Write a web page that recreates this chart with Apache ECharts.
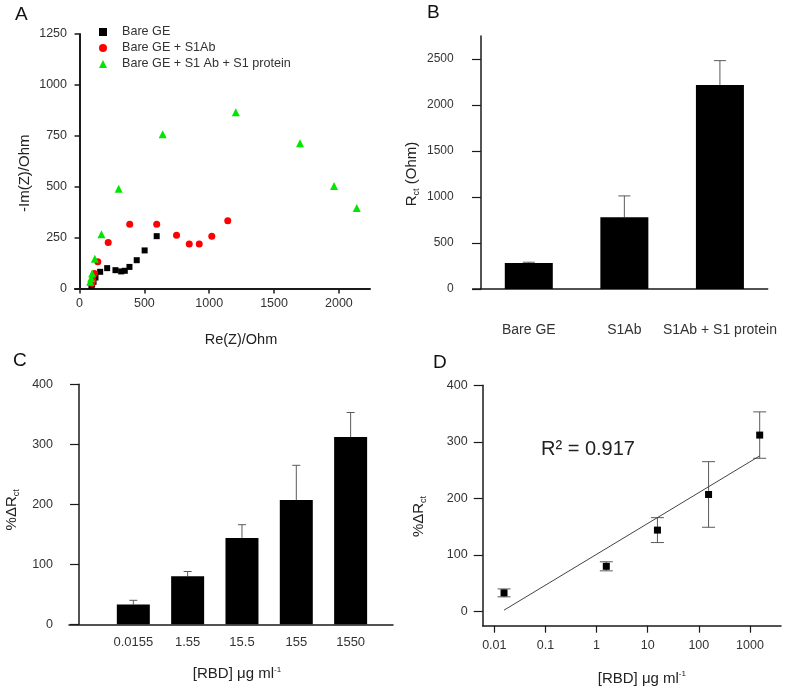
<!DOCTYPE html>
<html><head><meta charset="utf-8">
<script src="https://cdn.jsdelivr.net/npm/echarts@6/dist/echarts.min.js"></script>
<style>html,body{margin:0;padding:0;background:#fff}#c{width:789px;height:688px}</style>
</head><body><div id="c"></div>
<script>
// ---- Panel A: Nyquist data [Re(Z), -Im(Z)] ----
const bareGE = [[92,12],[97,20],[108,33],[123,54],[159,82],[213,100],[277,90],[321,84],[349,87],[385,106],[441,139],[502,187],[595,257]];
const bareGES1Ab = [[95,25],[102,41],[115,74],[141,131],[221,226],[387,316],[595,316],[748,262],[846,218],[923,218],[1020,257],[1143,333]];
const bareGES1AbS1 = [[82,33],[90,50],[97,74],[118,146],[169,267],[302,490],[641,758],[1205,866],[1700,713],[1963,503],[2138,395]];
const aXTicks = [0, 500, 1000, 1500, 2000];

// ---- Panel B: Rct ----
const rctCategories = ['Bare GE', 'S1Ab', 'S1Ab + S1 protein'];
const rctValues = [283, 780, 2217];
const rctErrors = [8, 232, 265];
const bYTicks = [0, 500, 1000, 1500, 2000, 2500];

// ---- Panels C & D: %ΔRct vs [RBD] ----
const rbdLabels = ['0.0155', '1.55', '15.5', '155', '1550'];
const rbdConc = [0.0155, 1.55, 15.5, 155, 1550];
const dRctValues = [33, 80, 144, 207, 312];
const dRctErrors = [7, 8, 22, 58, 41];
const dXTicks = [0.01, 0.1, 1, 10, 100, 1000];
const dYTicks = [0, 100, 200, 300, 400];
const r2Text = 'R² = 0.917';

// linear regression of %ΔRct on log10(conc)
const lx = rbdConc.map(c => Math.log10(c));
const mx = lx.reduce((a, b) => a + b, 0) / lx.length;
const my = dRctValues.reduce((a, b) => a + b, 0) / dRctValues.length;
let sxy = 0, sxx = 0;
lx.forEach((x, i) => { sxy += (x - mx) * (dRctValues[i] - my); sxx += (x - mx) * (x - mx); });
const slope = sxy / sxx, icpt = my - slope * mx;
const fitLine = [rbdConc[0], rbdConc[rbdConc.length - 1]].map(c => [c, icpt + slope * Math.log10(c)]);

const FONT = 'Liberation Sans, Arial, sans-serif';
const AX = '#1a1a1a', LBL = '#333';
const plain = v => String(+Number(v).toPrecision(6));

function errBar(capW, both) {
  return function (params, api) {
    const x = api.value(0), lo = api.value(1), hi = api.value(2);
    const p0 = api.coord([x, lo]), p1 = api.coord([x, hi]);
    const style = { stroke: '#5a5a5a', lineWidth: 1 };
    const ch = [
      { type: 'line', shape: { x1: p0[0], y1: p0[1], x2: p1[0], y2: p1[1] }, style },
      { type: 'line', shape: { x1: p1[0] - capW / 2, y1: p1[1], x2: p1[0] + capW / 2, y2: p1[1] }, style }
    ];
    if (both) ch.push({ type: 'line', shape: { x1: p0[0] - capW / 2, y1: p0[1], x2: p0[0] + capW / 2, y2: p0[1] }, style });
    return { type: 'group', children: ch };
  };
}

const lineStyle = (w) => ({ lineStyle: { color: AX, width: w } });
const subRich = {
  r: { fontSize: 15, lineHeight: 18, color: '#222', fontFamily: FONT },
  s: { fontSize: 9, lineHeight: 10, verticalAlign: 'bottom', color: '#222', fontFamily: FONT },
  p: { fontSize: 8, lineHeight: 8, verticalAlign: 'top', color: '#222', fontFamily: FONT }
};
const letter = { fontSize: 19, fontWeight: 'normal', color: '#111' };

const chart = echarts.init(document.getElementById('c'), null, { renderer: 'canvas' });
chart.setOption({
  animation: false,
  backgroundColor: '#fff',
  textStyle: { fontFamily: FONT },
  title: [
    { text: 'A', left: 15, top: 5, padding: 0, textStyle: letter },
    { text: 'B', left: 427, top: 3, padding: 0, textStyle: letter },
    { text: 'C', left: 13, top: 351, padding: 0, textStyle: letter },
    { text: 'D', left: 433, top: 353, padding: 0, textStyle: letter }
  ],
  graphic: [
    { type: 'text', left: 541, top: 439, style: { text: r2Text, fontSize: 20, fill: '#222', fontFamily: FONT } }
  ],
  legend: {
    orient: 'vertical', left: 99, top: 25, padding: 0, itemWidth: 8, itemHeight: 8, itemGap: 2,
    textStyle: { fontSize: 12.6, color: LBL, padding: [0, 0, 0, 10], lineHeight: 14 },
    data: ['Bare GE', 'Bare GE + S1Ab', 'Bare GE + S1 Ab + S1 protein']
  },
  grid: [
    { left: 75, top: 34, width: 295, height: 254.5 },
    { left: 472.7, top: 36, width: 295, height: 253 },
    { left: 69, top: 384.3, width: 324, height: 240 },
    { left: 482.7, top: 385.3, width: 298.3, height: 240.4 }
  ],
  xAxis: [
    {
      gridIndex: 0, type: 'value', min: -35, max: 2240,
      axisLine: lineStyle(2),
      axisTick: { customValues: aXTicks, length: 5, lineStyle: { color: AX, width: 1.5 } },
      axisLabel: { customValues: aXTicks, formatter: plain, margin: 9, fontSize: 12.5, color: LBL },
      splitLine: { show: false },
      name: 'Re(Z)/Ohm', nameLocation: 'middle', nameGap: 44,
      nameTextStyle: { fontSize: 14.5, color: '#222', padding: [0, 0, 0, 37] }
    },
    {
      gridIndex: 1, type: 'value', min: -0.087, max: 3.0,
      axisLine: lineStyle(1.5),
      axisTick: { show: false },
      axisLabel: { customValues: [0.5, 1.5, 2.5], formatter: v => rctCategories[Math.round(v - 0.5)], margin: 34, fontSize: 14, color: LBL },
      splitLine: { show: false }
    },
    {
      gridIndex: 2, type: 'value', min: -0.184, max: 5.78,
      axisLine: lineStyle(1.5),
      axisTick: { show: false },
      axisLabel: { customValues: [1, 2, 3, 4, 5], formatter: v => rbdLabels[Math.round(v) - 1], margin: 12, fontSize: 13, color: LBL },
      splitLine: { show: false },
      name: '{r|[RBD] μg ml}{p|-1}', nameLocation: 'middle', nameGap: 41,
      nameTextStyle: { rich: subRich, padding: [0, 0, 0, 12] }
    },
    {
      gridIndex: 3, type: 'log', min: 0.00593, max: 4045,
      axisLine: { onZero: false, lineStyle: { color: AX, width: 1.5 } },
      axisTick: { customValues: dXTicks, length: 7, lineStyle: { color: AX, width: 1.2 } },
      axisLabel: { customValues: dXTicks, formatter: plain, margin: 13, fontSize: 12.5, color: LBL },
      splitLine: { show: false },
      name: '{r|[RBD] μg ml}{p|-1}', nameLocation: 'middle', nameGap: 44,
      nameTextStyle: { rich: subRich, padding: [0, 0, 0, 20] }
    }
  ],
  yAxis: [
    {
      gridIndex: 0, type: 'value', min: 0, max: 1250, interval: 250,
      axisLine: lineStyle(2),
      axisTick: { length: 5, lineStyle: { color: AX, width: 1.5 } },
      axisLabel: { formatter: plain, margin: 8, fontSize: 12.5, color: LBL },
      splitLine: { show: false },
      name: '-Im(Z)/Ohm', nameLocation: 'middle', nameGap: 43,
      nameTextStyle: { fontSize: 15, color: '#222', padding: [0, 24, 0, 0] }
    },
    {
      gridIndex: 1, type: 'value', min: 0, max: 2750,
      axisLine: lineStyle(1.5),
      axisTick: { customValues: bYTicks, length: 9, lineStyle: { color: AX, width: 1.2 } },
      axisLabel: { customValues: bYTicks, formatter: plain, margin: 19, fontSize: 12, color: LBL },
      splitLine: { show: false },
      name: '{r|R}{s|ct}{r| (Ohm)}', nameLocation: 'middle', nameGap: 52,
      nameTextStyle: { rich: subRich, padding: [0, 23, 0, 0] }
    },
    {
      gridIndex: 2, type: 'value', min: 0, max: 400, interval: 100,
      axisLine: lineStyle(1.5),
      axisTick: { length: 9, lineStyle: { color: AX, width: 1.2 } },
      axisLabel: { formatter: plain, margin: 16, fontSize: 12.5, color: LBL },
      splitLine: { show: false },
      name: '{r|%ΔR}{s|ct}', nameLocation: 'middle', nameGap: 48,
      nameTextStyle: { rich: subRich, padding: [0, 11, 0, 0] }
    },
    {
      gridIndex: 3, type: 'value', min: -25, max: 400,
      axisLine: { onZero: false, lineStyle: { color: AX, width: 1.5 } },
      axisTick: { customValues: dYTicks, length: 9, lineStyle: { color: AX, width: 1.2 } },
      axisLabel: { customValues: dYTicks, formatter: plain, margin: 15, fontSize: 12.5, color: LBL },
      splitLine: { show: false },
      name: '{r|%ΔR}{s|ct}', nameLocation: 'middle', nameGap: 55,
      nameTextStyle: { rich: subRich, padding: [0, 22, 0, 0] }
    }
  ],
  series: [
    { name: 'Bare GE', type: 'scatter', xAxisIndex: 0, yAxisIndex: 0, symbol: 'rect', symbolSize: 6, itemStyle: { color: '#000', opacity: 1 }, data: bareGE },
    { name: 'Bare GE + S1Ab', type: 'scatter', xAxisIndex: 0, yAxisIndex: 0, symbol: 'circle', symbolSize: 7, itemStyle: { color: '#ff0000', opacity: 1 }, data: bareGES1Ab },
    { name: 'Bare GE + S1 Ab + S1 protein', type: 'scatter', xAxisIndex: 0, yAxisIndex: 0, symbol: 'triangle', symbolSize: 8, itemStyle: { color: '#00e600', opacity: 1 }, data: bareGES1AbS1 },

    { type: 'bar', xAxisIndex: 1, yAxisIndex: 1, barWidth: 48, itemStyle: { color: '#000' }, data: rctValues.map((v, i) => [i + 0.5, v]) },
    { type: 'custom', xAxisIndex: 1, yAxisIndex: 1, renderItem: errBar(12, false), encode: { x: 0, y: [1, 2] },
      data: rctValues.map((v, i) => [i + 0.5, v, v + rctErrors[i]]) },

    { type: 'bar', xAxisIndex: 2, yAxisIndex: 2, barWidth: 33, itemStyle: { color: '#000' }, data: dRctValues.map((v, i) => [i + 1, v]) },
    { type: 'custom', xAxisIndex: 2, yAxisIndex: 2, renderItem: errBar(8, false), encode: { x: 0, y: [1, 2] },
      data: dRctValues.map((v, i) => [i + 1, v, v + dRctErrors[i]]) },

    { type: 'line', xAxisIndex: 3, yAxisIndex: 3, showSymbol: false, symbol: 'none', lineStyle: { color: '#444', width: 1 }, data: fitLine },
    { type: 'custom', xAxisIndex: 3, yAxisIndex: 3, renderItem: errBar(13, true), encode: { x: 0, y: [1, 2] },
      data: dRctValues.map((v, i) => [rbdConc[i], v - dRctErrors[i], v + dRctErrors[i]]) },
    { type: 'scatter', xAxisIndex: 3, yAxisIndex: 3, symbol: 'rect', symbolSize: 7, itemStyle: { color: '#000', opacity: 1 },
      data: dRctValues.map((v, i) => [rbdConc[i], v]) }
  ]
});
</script></body></html>
